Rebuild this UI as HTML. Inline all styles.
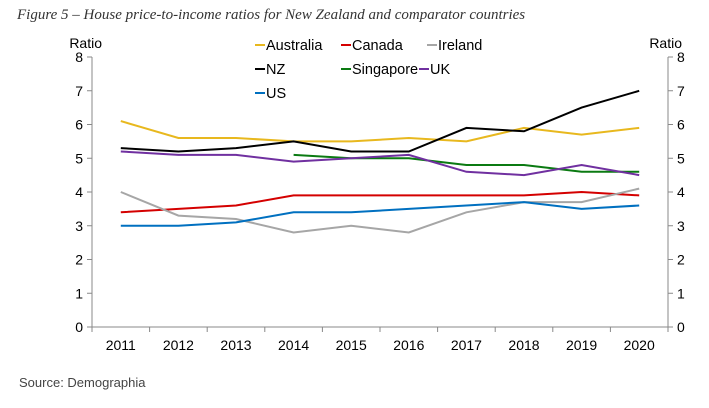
<!DOCTYPE html>
<html><head><meta charset="utf-8"><style>
body{margin:0;background:#fff;width:709px;height:403px;overflow:hidden}
svg text{font-family:"Liberation Sans",sans-serif}
</style></head><body>
<svg width="709" height="403">
<text x="17" y="19" style="font-family:'Liberation Serif',serif;font-style:italic;font-size:15px" fill="#333">Figure 5 – House price-to-income ratios for New Zealand and comparator countries</text>
<text x="19" y="387" font-size="13" fill="#444">Source: Demographia</text>
<g id="axes"></g><g id="series"></g><g id="legend"></g>
</svg>
<script>
const years=["2011","2012","2013","2014","2015","2016","2017","2018","2019","2020"];
const yTicks=[0,1,2,3,4,5,6,7,8];
const australia=[6.1,5.6,5.6,5.5,5.5,5.6,5.5,5.9,5.7,5.9];
const canada=[3.4,3.5,3.6,3.9,3.9,3.9,3.9,3.9,4.0,3.9];
const ireland=[4.0,3.3,3.2,2.8,3.0,2.8,3.4,3.7,3.7,4.1];
const nz=[5.3,5.2,5.3,5.5,5.2,5.2,5.9,5.8,6.5,7.0];
const singapore=[null,null,null,5.1,5.0,5.0,4.8,4.8,4.6,4.6];
const uk=[5.2,5.1,5.1,4.9,5.0,5.1,4.6,4.5,4.8,4.5];
const us=[3.0,3.0,3.1,3.4,3.4,3.5,3.6,3.7,3.5,3.6];
const NS="http://www.w3.org/2000/svg";
const L=92,R=668,T=57,B=327,ymax=8;
const bw=(R-L)/years.length;
const xs=i=>L+bw*(i+0.5);
const ys=v=>B-(B-T)*v/ymax;
function mk(tag,attrs,parent,text){const e=document.createElementNS(NS,tag);for(const k in attrs)e.setAttribute(k,attrs[k]);if(text!==undefined)e.textContent=text;parent.appendChild(e);return e;}
const ax=document.getElementById('axes');
let e;
e=mk('line',{x1:L,y1:T,x2:L,y2:B,stroke:'#888'},ax);


e=mk('line',{x1:R,y1:T,x2:R,y2:B,stroke:'#888'},ax);


e=mk('line',{x1:L,y1:B,x2:R,y2:B,stroke:'#888'},ax);


yTicks.forEach(v=>{
 const y=ys(v);
 mk('line',{x1:L-5,y1:y,x2:L,y2:y,stroke:'#888'},ax);
 mk('line',{x1:R,y1:y,x2:R+5,y2:y,stroke:'#888'},ax);
 e=mk('text',{x:L-9,y:y+5,'text-anchor':'end','font-size':14,fill:'#000'},ax,v);
 
 
 e=mk('text',{x:R+9,y:y+5,'font-size':14,fill:'#000'},ax,v);
 
 
});
for(let i=0;i<=years.length;i++){mk('line',{x1:L+bw*i,y1:B,x2:L+bw*i,y2:B+5,stroke:'#888'},ax);}
years.forEach((yr,i)=>{
 e=mk('text',{x:xs(i),y:B+23,'text-anchor':'middle','font-size':14,fill:'#000'},ax,yr);
 
 
});
e=mk('text',{x:L+10,y:48,'text-anchor':'end','font-size':14},ax,'Ratio');


e=mk('text',{x:R+14,y:48,'text-anchor':'end','font-size':14},ax,'Ratio');


const series=[
 ['Australia',australia,'#e8b81e',255,50],
 ['Canada',canada,'#d40000',341,50],
 ['Ireland',ireland,'#a6a6a6',427,50],
 ['NZ',nz,'#000000',255,74],
 ['Singapore',singapore,'#0b7a12',341,74],
 ['UK',uk,'#7030a0',419,74],
 ['US',us,'#0070c0',255,98]
];
const sg=document.getElementById('series'),lg=document.getElementById('legend');
series.forEach(([name,vals,col,lx,ly])=>{
 let d='',pen=false;
 vals.forEach((v,i)=>{if(v===null){pen=false;return;}d+=(pen?'L':'M')+xs(i).toFixed(1)+','+ys(v).toFixed(1);pen=true;});
 e=mk('path',{d:d,fill:'none',stroke:col,'stroke-width':2},sg);
 
 
 e=mk('line',{x1:lx,y1:ly-5,x2:lx+10,y2:ly-5,stroke:col,'stroke-width':2},lg);
 
 
 e=mk('text',{x:lx+11,y:ly,'font-size':14.5},lg,name);
 
 
});
</script>
</body></html>
